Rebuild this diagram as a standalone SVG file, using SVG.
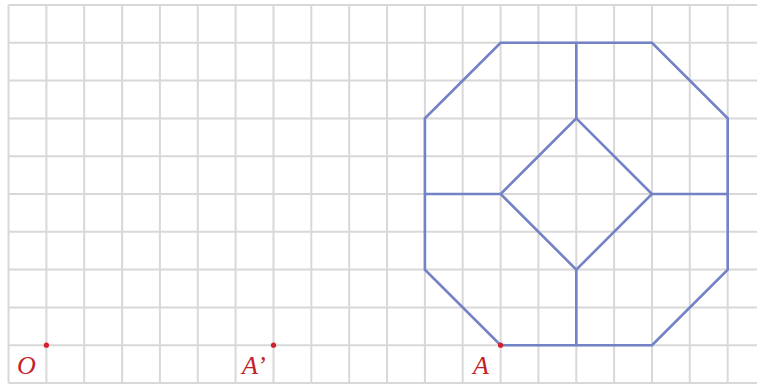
<svg xmlns="http://www.w3.org/2000/svg" width="757" height="385" viewBox="0 0 757 385">
<style>
.grid line{stroke:#d8d8d8;stroke-width:2}
.fig{stroke:#7381c6;stroke-width:2.6;fill:none;stroke-linejoin:miter}
.pt{fill:#d4202c}
.lbl{font-family:"Liberation Serif","DejaVu Serif",serif;font-style:italic;font-size:26px;fill:#c41f2b}
</style>
<rect width="757" height="385" fill="#ffffff"/>
<g id="grid" class="grid">
<line x1="8.5" y1="5" x2="8.5" y2="383"/>
<line x1="46.4" y1="5" x2="46.4" y2="383"/>
<line x1="84.2" y1="5" x2="84.2" y2="383"/>
<line x1="122.1" y1="5" x2="122.1" y2="383"/>
<line x1="159.9" y1="5" x2="159.9" y2="383"/>
<line x1="197.8" y1="5" x2="197.8" y2="383"/>
<line x1="235.6" y1="5" x2="235.6" y2="383"/>
<line x1="273.5" y1="5" x2="273.5" y2="383"/>
<line x1="311.3" y1="5" x2="311.3" y2="383"/>
<line x1="349.2" y1="5" x2="349.2" y2="383"/>
<line x1="387" y1="5" x2="387" y2="383"/>
<line x1="424.9" y1="5" x2="424.9" y2="383"/>
<line x1="462.7" y1="5" x2="462.7" y2="383"/>
<line x1="500.6" y1="5" x2="500.6" y2="383"/>
<line x1="538.4" y1="5" x2="538.4" y2="383"/>
<line x1="576.3" y1="5" x2="576.3" y2="383"/>
<line x1="614.1" y1="5" x2="614.1" y2="383"/>
<line x1="652" y1="5" x2="652" y2="383"/>
<line x1="689.8" y1="5" x2="689.8" y2="383"/>
<line x1="727.7" y1="5" x2="727.7" y2="383"/>
<line x1="8.5" y1="5" x2="757" y2="5"/>
<line x1="8.5" y1="42.8" x2="757" y2="42.8"/>
<line x1="8.5" y1="80.6" x2="757" y2="80.6"/>
<line x1="8.5" y1="118.4" x2="757" y2="118.4"/>
<line x1="8.5" y1="156.2" x2="757" y2="156.2"/>
<line x1="8.5" y1="194" x2="757" y2="194"/>
<line x1="8.5" y1="231.8" x2="757" y2="231.8"/>
<line x1="8.5" y1="269.6" x2="757" y2="269.6"/>
<line x1="8.5" y1="307.4" x2="757" y2="307.4"/>
<line x1="8.5" y1="345.2" x2="757" y2="345.2"/>
<line x1="8.5" y1="383" x2="757" y2="383"/>
</g>
<g id="figure" class="fig">
<polygon points="500.6,42.8 652,42.8 727.7,118.4 727.7,269.6 652,345.2 500.6,345.2 424.9,269.6 424.9,118.4"/>
<polygon points="576.3,118.4 652,194 576.3,269.6 500.6,194"/>
<line x1="576.3" y1="42.8" x2="576.3" y2="118.4"/>
<line x1="576.3" y1="269.6" x2="576.3" y2="345.2"/>
<line x1="424.9" y1="194" x2="500.6" y2="194"/>
<line x1="652" y1="194" x2="727.7" y2="194"/>
</g>
<g id="point-O">
<circle class="pt" cx="46.4" cy="345.2" r="2.6"/>
<text class="lbl" x="17" y="374">O</text>
</g>
<g id="point-A-prime">
<circle class="pt" cx="273.5" cy="345.2" r="2.6"/>
<text class="lbl" x="242" y="374">A’</text>
</g>
<g id="point-A">
<circle class="pt" cx="500.6" cy="345.2" r="2.6"/>
<text class="lbl" x="473" y="374">A</text>
</g>
</svg>
